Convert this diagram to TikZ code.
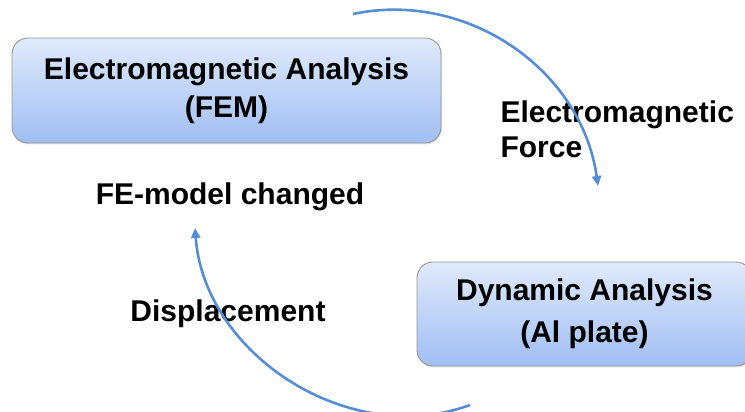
\documentclass[tikz,border=0pt]{standalone}
\usepackage{fontspec}
\setmainfont{Liberation Sans}
\usetikzlibrary{arrows.meta,shadows}

\definecolor{arcblue}{RGB}{85,142,213}
\definecolor{boxtop}{RGB}{224,234,251}
\definecolor{boxbot}{RGB}{160,190,243}
\definecolor{boxgray}{RGB}{150,150,150}

\begin{document}
\begin{tikzpicture}[x=1pt,y=1pt,
    box/.style={rounded corners=16pt,draw=boxgray,line width=0.9pt,
        top color=boxtop,bottom color=boxbot,align=center,
        drop shadow={shadow xshift=1pt,shadow yshift=-1.5pt,opacity=0.25},
        font=\bfseries\fontsize{30}{38}\selectfont},
    lbl/.style={font=\bfseries\fontsize{30}{35}\selectfont},
    flow/.style={arcblue,line width=2.6pt,-{Triangle[length=10pt,width=9pt]}}]
    \useasboundingbox (0,0) rectangle (745,412);
    \node[box,minimum width=429pt,minimum height=105pt] (em)  at (226.5,321.5) {Electromagnetic Analysis\\(FEM)};
    \node[box,minimum width=335pt,minimum height=104pt,
          font=\bfseries\fontsize{30}{42}\selectfont] (dyn) at (584.5,98) {Dynamic Analysis\\(Al plate)};
    \node[lbl,align=left,anchor=west] (force) at (497,282.5) {Electromagnetic\\Force};
    \node[lbl] (fe)   at (230,215) {FE-model changed};
    \node[lbl] (disp) at (228,98)  {Displacement};
    \coordinate (t1) at (353,398);
    \coordinate (t2) at (598,226);
    \coordinate (b1) at (470,7);
    \coordinate (b2) at (195,184);
    \draw[flow] (t1) to[bend left=47] (t2);
    \draw[flow] (b1) to[bend left=53] (b2);
\end{tikzpicture}
\end{document}
